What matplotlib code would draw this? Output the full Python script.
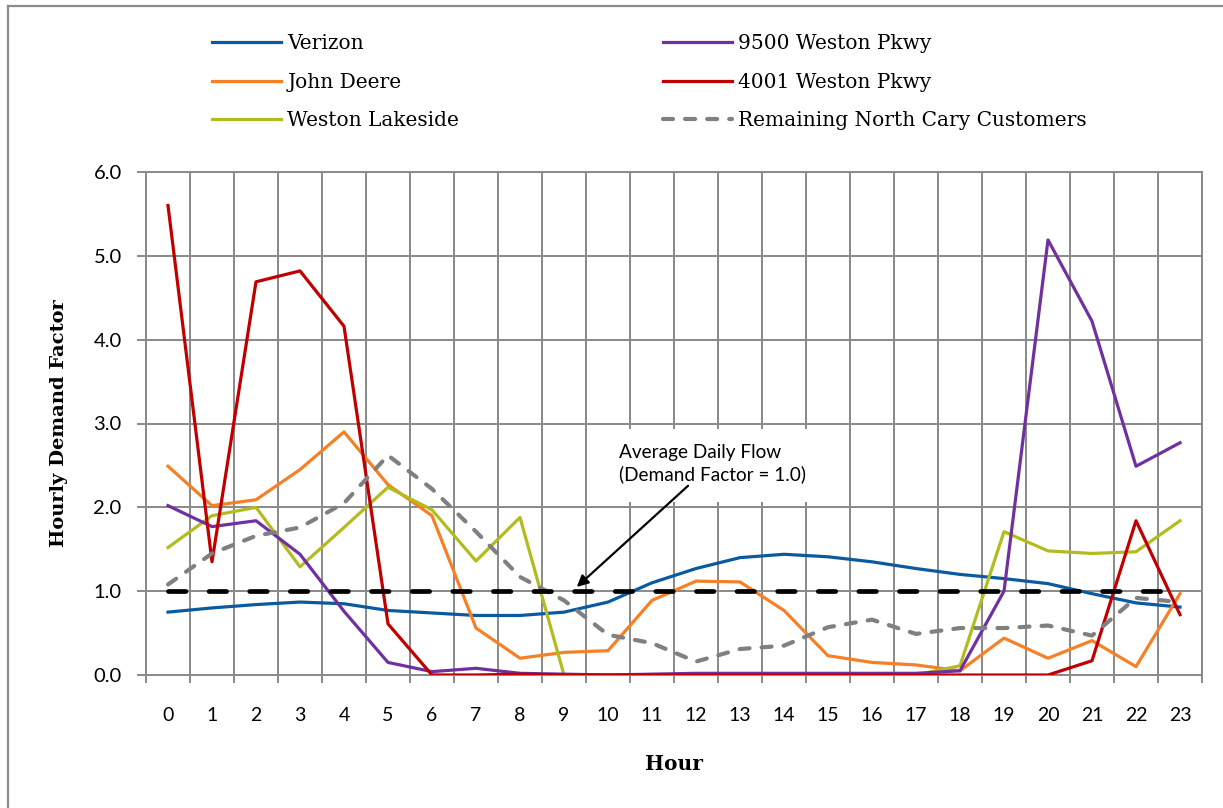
import matplotlib
matplotlib.use("Agg")
import matplotlib.pyplot as plt
from matplotlib.lines import Line2D

hours = list(range(24))
hour_labels = [str(h) for h in hours]

verizon = [0.75, 0.80, 0.84, 0.87, 0.85, 0.77, 0.74, 0.71, 0.71, 0.75, 0.87, 1.10,
           1.27, 1.40, 1.44, 1.41, 1.35, 1.27, 1.20, 1.15, 1.09, 0.97, 0.86, 0.81]
john_deere = [2.49, 2.02, 2.09, 2.45, 2.90, 2.27, 1.90, 0.56, 0.20, 0.27, 0.29, 0.89,
              1.12, 1.11, 0.77, 0.23, 0.15, 0.12, 0.05, 0.44, 0.20, 0.41, 0.10, 0.97]
weston_lakeside = [1.52, 1.90, 2.00, 1.29, 1.76, 2.24, 1.97, 1.36, 1.88, 0.00, 0.00, 0.00,
                   0.00, 0.00, 0.00, 0.00, 0.00, 0.00, 0.11, 1.71, 1.48, 1.45, 1.47, 1.84]
weston_9500 = [2.02, 1.77, 1.84, 1.44, 0.76, 0.15, 0.04, 0.08, 0.02, 0.01, 0.00, 0.01,
               0.02, 0.02, 0.02, 0.02, 0.02, 0.02, 0.05, 1.00, 5.19, 4.22, 2.49, 2.77]
weston_4001 = [5.60, 1.35, 4.69, 4.82, 4.16, 0.61, 0.00, 0.00, 0.01, 0.00, 0.00, 0.00,
               0.00, 0.00, 0.00, 0.00, 0.00, 0.00, 0.00, 0.00, 0.00, 0.17, 1.84, 0.72]
remaining = [1.08, 1.45, 1.66, 1.76, 2.05, 2.62, 2.22, 1.71, 1.17, 0.89, 0.48, 0.38,
             0.16, 0.31, 0.35, 0.57, 0.66, 0.49, 0.56, 0.56, 0.59, 0.47, 0.92, 0.87]
average_flow = [1.0] * 24

serif = "DejaVu Serif"
sans = "Lato"

W, H = 1223, 808
fig = plt.figure(figsize=(W / 100, H / 100), dpi=100)
ax = fig.add_axes([146 / W, 1 - 675 / H, 1056 / W, 503 / H])

grid_c = "#898989"
ax.set_xlim(-0.5, 23.5)
ax.set_ylim(0, 6)
ax.set_xticks([h - 0.5 for h in hours] + [23.5])
ax.set_xticklabels([])
ax.set_xticks(hours, minor=True)
ax.set_xticklabels(hour_labels, minor=True, fontfamily=sans, fontsize=14)
ax.set_yticks([0, 1, 2, 3, 4, 5, 6])
ax.set_yticklabels([f"{v:.1f}" for v in [0, 1, 2, 3, 4, 5, 6]], fontfamily=sans, fontsize=14.5)
ax.tick_params(axis="x", which="major", length=5.5, width=1.4, color=grid_c)
ax.tick_params(axis="x", which="minor", length=0, pad=23)
ax.tick_params(axis="y", which="major", length=6.5, width=1.4, color=grid_c, pad=11)
ax.grid(True, which="major", color=grid_c, linewidth=1.4)
ax.set_axisbelow(True)
for s in ax.spines.values():
    s.set_color(grid_c)
    s.set_linewidth(1.4)

lw = 2.3
ax.plot(hours, verizon, color="#0A5AA0", lw=lw, zorder=3)
ax.plot(hours, john_deere, color="#F68026", lw=lw, zorder=3)
ax.plot(hours, weston_lakeside, color="#B2BC1E", lw=lw, zorder=3)
ax.plot(hours, weston_9500, color="#7030A0", lw=lw, zorder=3)
ax.plot(hours, weston_4001, color="#C00000", lw=lw, zorder=3)
ax.plot(hours, remaining, color="#808080", lw=3.0, dashes=(2.4, 2.9),
        dash_capstyle="round", zorder=3)
ax.plot(hours, average_flow, color="black", lw=3.4, dashes=(3.7, 4.9),
        dash_capstyle="round", zorder=4)

# white label box behind the annotation text (covers the grid only)
ax.axvspan(9.75, 14.6, ymin=2.06 / 6, ymax=2.94 / 6, color="white", lw=0, zorder=1)
ax.annotate("Average Daily Flow\n(Demand Factor = 1.0)",
            xy=(9.29, 1.05), xytext=(10.25, 2.29),
            fontfamily=sans, fontsize=13.7, ha="left", va="bottom",
            linespacing=1.27,
            arrowprops=dict(arrowstyle="-|>", color="black", lw=1.6,
                            mutation_scale=17, shrinkA=0, shrinkB=0),
            zorder=5)

ax.set_ylabel("Hourly Demand Factor", fontfamily=serif, fontsize=14,
              fontweight="bold", labelpad=18)
ax.set_xlabel("Hour", fontfamily=serif, fontsize=14.5, fontweight="bold", labelpad=22)

handles = [
    Line2D([], [], color="#0A5AA0", lw=2.3),
    Line2D([], [], color="#F68026", lw=2.3),
    Line2D([], [], color="#B2BC1E", lw=2.3),
    Line2D([], [], color="#7030A0", lw=2.3),
    Line2D([], [], color="#C00000", lw=2.3),
    Line2D([], [], color="#808080", lw=3.0, dashes=(2.4, 2.9), dash_capstyle="round"),
]
labels = ["Verizon", "John Deere", "Weston Lakeside",
          "9500 Weston Pkwy", "4001 Weston Pkwy", "Remaining North Cary Customers"]
fig.legend(handles, labels, ncol=2, frameon=False, loc="upper left",
           bbox_to_anchor=(194 / W, 1 - 16 / H),
           prop={"family": serif, "size": 14.5},
           handlelength=3.43, handletextpad=0.3, columnspacing=10.1,
           labelspacing=0.97)

# outer frame of the chart area (left and top edges)
fig.add_artist(Line2D([8 / W, 8 / W], [0, 1 - 6 / H], transform=fig.transFigure,
                      color="#8c8c8c", lw=1.6))
fig.add_artist(Line2D([8 / W, 1], [1 - 6 / H, 1 - 6 / H], transform=fig.transFigure,
                      color="#8c8c8c", lw=1.6))

fig.savefig("out.png", dpi=100)
